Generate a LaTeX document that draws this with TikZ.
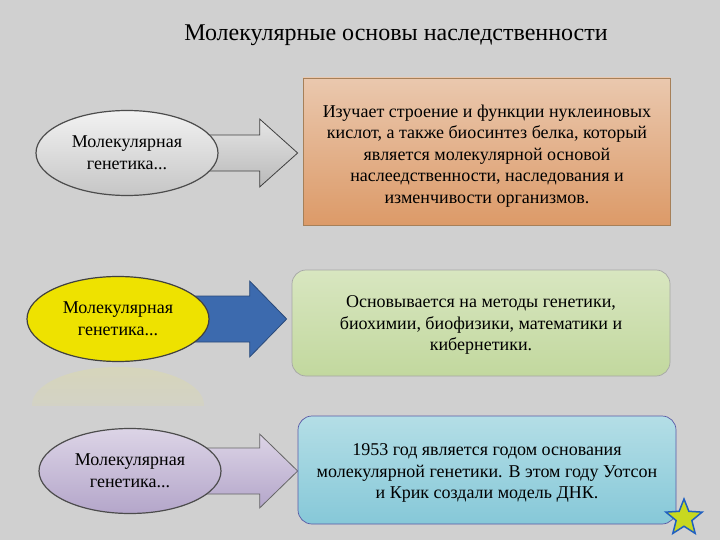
\documentclass[tikz,border=0pt]{standalone}
\usepackage{fontspec}
\setmainfont{Liberation Serif}
\usetikzlibrary{shapes.geometric,calc,fadings}
\definecolor{bgGray}{HTML}{D0D0D0}
\definecolor{peachTop}{HTML}{EAC8AE}
\definecolor{peachBot}{HTML}{DC9A68}
\definecolor{greenTop}{HTML}{D8E6C0}
\definecolor{greenBot}{HTML}{C2D89E}
\definecolor{blueTop}{HTML}{B4DEE6}
\definecolor{blueBot}{HTML}{86C8D8}
\definecolor{arrowBlue}{HTML}{3C6AAE}
\definecolor{lilacTop}{HTML}{DCD4E6}
\definecolor{lilacBot}{HTML}{B4A6CA}
\definecolor{starFill}{HTML}{C8D820}
\definecolor{starLine}{HTML}{2060C0}
\pgfdeclarelayer{back}
\pgfdeclarelayer{mid}
\pgfsetlayers{back,mid,main}
% block arrow from an oval to a box: shaft, head, head length, gap
\newcommand\blockarrow[7]{%
  \draw[#7] let \p1=(#1.center), \p2=(#2.west) in
    (\x1,\y1+#3) -- (\x2-#5-#6,\y1+#3) -- (\x2-#5-#6,\y1+#4) -- (\x2-#6,\y1) --
    (\x2-#5-#6,\y1-#4) -- (\x2-#5-#6,\y1-#3) -- (\x1,\y1-#3) -- cycle;}
\begin{document}
\begin{tikzpicture}[x=1pt,y=-1pt,
  oval/.style={ellipse, minimum width=182pt, minimum height=85pt, inner sep=0pt,
    line width=1.2pt, align=center, font=\fontsize{18}{22}\selectfont},
  infobox/.style={minimum width=#1, inner sep=0pt, line width=0.7pt},
  infotext/.style={align=center, inner sep=0pt, font=\fontsize{18}{21.4}\selectfont},
  title/.style={font=\fontsize{24}{28}\selectfont}]
  \begin{pgfonlayer}{back}
    \fill[bgGray] (0,0) rectangle (720,540);
  \end{pgfonlayer}
  \useasboundingbox (0,0) rectangle (720,540);

  \node[title] (head) at (396,35) {Молекулярные основы наследственности};

  % row 1
  \node[infobox=367pt, minimum height=147pt, draw=brown!60!gray,
    top color=peachTop, bottom color=peachBot] (i1) at (486.5,151.5) {};
  \node[infotext] (t1) at (487,156)
    {Изучает строение и функции нуклеиновых\\кислот, а также биосинтез белка, который\\является молекулярной основой\\наслеедственности, наследования и\\изменчивости организмов.};
  \node[oval, draw=black!70, top color=white!90!gray, bottom color=gray!45] (g1) at (127,153)
    {Молекулярная\\генетика...};

  % row 2
  \node[infobox=378pt, minimum height=106pt, rounded corners=14pt, draw=gray!70,
    top color=greenTop, bottom color=greenBot] (i2) at (481,323) {};
  \node[infotext] (t2) at (481,325)
    {Основывается на методы генетики,\\биохимии, биофизики, математики и\\кибернетики.};
  \begin{scope}
    \clip (20,365) rectangle (220,405);
    \fill[yellow!35!bgGray, opacity=0.35, path fading=south] (118,405) ellipse (86pt and 38pt);
  \end{scope}
  \node[oval, draw=black!75, fill=yellow!85!olive] (g2) at (118,319)
    {Молекулярная\\генетика...};

  % row 3
  \node[infobox=378pt, minimum height=108pt, rounded corners=14pt, draw=gray!70!blue,
    top color=blueTop, bottom color=blueBot] (i3) at (487,470) {};
  \node[infotext] (t3) at (487,473)
    {1953 год является годом основания\\молекулярной генетики. В этом году Уотсон\\и Крик создали модель ДНК.};
  \node[oval, draw=black!70, top color=lilacTop, bottom color=lilacBot] (g3) at (130,471)
    {Молекулярная\\генетика...};

  % arrows behind the ovals
  \begin{pgfonlayer}{mid}
    \blockarrow{g1}{i1}{18pt}{34pt}{38pt}{5pt}{line width=0.8pt, draw=black!75, top color=gray!20, bottom color=gray!55}
    \blockarrow{g2}{i2}{23pt}{38pt}{37pt}{5pt}{line width=0.8pt, draw=arrowBlue!70!black, fill=arrowBlue}
    \blockarrow{g3}{i3}{23pt}{37pt}{38pt}{0pt}{line width=0.8pt, draw=black!60, top color=lilacTop, bottom color=lilacBot}
  \end{pgfonlayer}

  \node[star, star points=5, star point ratio=2.3, minimum size=38pt, inner sep=0pt,
    fill=starFill, draw=starLine, line width=1.5pt] (mark) at (684,518) {};
\end{tikzpicture}
\end{document}
